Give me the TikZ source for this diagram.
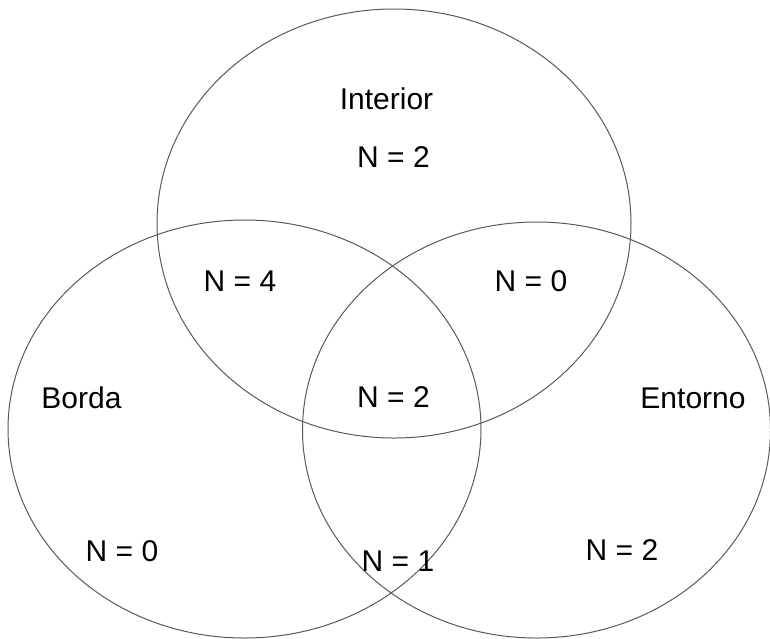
\documentclass[tikz,border=0pt]{standalone}
\usepackage{fontspec}
\setmainfont{Liberation Sans}
\begin{document}
\begin{tikzpicture}[x=1pt,y=-1pt,
  setline/.style={draw=black!65, line width=1pt},
  lbl/.style={font=\fontsize{30}{34}\selectfont, inner sep=0pt, anchor=center}]
\useasboundingbox (0,0) rectangle (770,638);
\draw[setline] (394,223.5) ellipse [x radius=237, y radius=214.5];
\draw[setline] (244.5,429) ellipse [x radius=236.5, y radius=209];
\draw[setline] (536.5,430) ellipse [x radius=234, y radius=208];
\node[lbl] (interior) at (386.5,99) {Interior};
\node[lbl] (ntop) at (393.5,157) {N = 2};
\node[lbl] (nleftint) at (240,281) {N = 4};
\node[lbl] (nrightint) at (531,281) {N = 0};
\node[lbl] (borda) at (81.5,398) {Borda};
\node[lbl] (ncenter) at (393.5,397) {N = 2};
\node[lbl] (entorno) at (693,398) {Entorno};
\node[lbl] (nleft) at (122,551) {N = 0};
\node[lbl] (nbottom) at (398,561) {N = 1};
\node[lbl] (nright) at (622,550) {N = 2};
\end{tikzpicture}
\end{document}
